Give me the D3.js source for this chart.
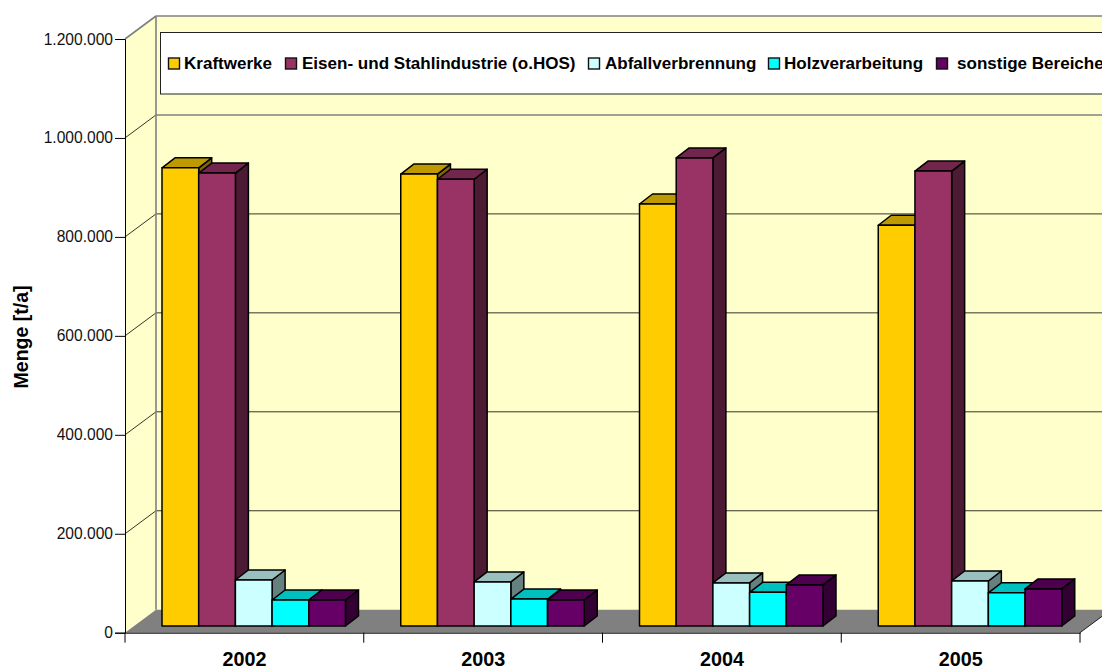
<!DOCTYPE html>
<html><head><meta charset="utf-8">
<script src="https://cdn.jsdelivr.net/npm/d3@7/dist/d3.min.js"></script>
<style>html,body{margin:0;padding:0;background:#fff;overflow:hidden}svg{display:block}text{font-family:"Liberation Sans",Arial,sans-serif;fill:#000}</style>
</head><body><svg id="c" width="1102" height="667"></svg>
<script>
const years = ["2002","2003","2004","2005"];
const seriesNames = ["Kraftwerke","Eisen- und Stahlindustrie (o.HOS)","Abfallverbrennung","Holzverarbeitung","sonstige Bereiche"];
const kraftwerke = [926000,913500,853000,810000];
const eisenStahl = [915500,903000,946000,919500];
const abfall = [93000,89000,87000,91000];
const holz = [52500,54500,68000,67000];
const sonstige = [52500,52500,83000,75000];
const allSeries = [kraftwerke,eisenStahl,abfall,holz,sonstige];
const yTicks = [0,200000,400000,600000,800000,1000000,1200000];
const colors = ["#FFCC00","#993366","#CCFFFF","#00FFFF","#660066"];
const topColors = ["#BF9900","#73264D","#99BFBF","#00BFBF","#4D004D"];
const sideColors = ["#806600","#4D1A33","#668080","#008080","#330033"];
const legendKeyX = [168,285,588,768,936];
const legendTextX = [184,302,605,784,957];

const svg = d3.select("#c");
const y = d3.scaleLinear().domain([0,1200000]).range([632.7,39]);
const x = d3.scaleBand().domain(years).range([125,1080]);
const inner = d3.scaleBand().domain(d3.range(5)).range([37,220.5]);
const fmt = d3.formatLocale({decimal:",",thousands:".",grouping:[3],currency:["",""]}).format(",d");
const depth = {dx:31,dy:-23}, barDepth = {dx:13,dy:-10}, barBase = {dx:0,dy:-6.7};
const rightEdge = 1080, pts = a => a.map(p=>p.join(",")).join(" ");

// walls
const y0=y(0), yT=y(1200000), L=125;
svg.append("polygon").attr("points",pts([[L,yT],[L+depth.dx,yT+depth.dy],[L+depth.dx,y0+depth.dy],[L,y0]])).attr("fill","#FFFFCC");
svg.append("rect").attr("x",L+depth.dx).attr("y",yT+depth.dy).attr("width",1000).attr("height",y0-yT).attr("fill","#FFFFCC");
// gridlines
yTicks.slice(1).forEach(t=>{
  const gray = t>=1000000, c = gray?"#808080":"#000", yy=y(t);
  svg.append("line").attr("x1",L+depth.dx).attr("x2",1102).attr("y1",yy+depth.dy).attr("y2",yy+depth.dy)
    .attr("stroke",c).attr("stroke-width",gray?1.6:0.8);
  svg.append("line").attr("x1",L).attr("x2",L+depth.dx).attr("y1",yy).attr("y2",yy+depth.dy)
    .attr("stroke",t===1200000?"#808080":"#000").attr("stroke-width",t===1200000?1.6:0.8);
});
svg.append("line").attr("x1",L+depth.dx).attr("x2",L+depth.dx).attr("y1",yT+depth.dy).attr("y2",y0+depth.dy).attr("stroke","#808080").attr("stroke-width",1.6);
// floor
svg.append("polygon").attr("points",pts([[L,y0],[L+depth.dx,y0+depth.dy],[rightEdge+depth.dx,y0+depth.dy],[rightEdge,y0]])).attr("fill","#808080");
// legend
svg.append("rect").attr("x",160.5).attr("y",32.5).attr("width",1000).attr("height",61.5).attr("fill","#fff").attr("stroke","#222").attr("stroke-width",1);
seriesNames.forEach((n,i)=>{
  svg.append("rect").attr("x",legendKeyX[i]+.5).attr("y",58).attr("width",11).attr("height",11).attr("fill",colors[i]).attr("stroke","#111").attr("stroke-width",1.4);
  svg.append("text").attr("x",legendTextX[i]).attr("y",69.2).attr("font-size",17.05).attr("font-weight","bold").text(n);
});
// bars
years.forEach((yr,gi)=>{
  allSeries.forEach((s,si)=>{
    const x0=x(yr)+inner(si), w=inner.bandwidth(), b=y(0)+barBase.dy, t=b-(y(0)-y(s[gi]));
    const d=barDepth, g=svg.append("g").attr("stroke","#000").attr("stroke-width",1.5).attr("stroke-linejoin","round");
    g.append("polygon").attr("fill",sideColors[si]).attr("points",pts([[x0+w,t],[x0+w+d.dx,t+d.dy],[x0+w+d.dx,b+d.dy],[x0+w,b]]));
    g.append("polygon").attr("fill",topColors[si]).attr("points",pts([[x0,t],[x0+d.dx,t+d.dy],[x0+w+d.dx,t+d.dy],[x0+w,t]]));
    g.append("rect").attr("fill",colors[si]).attr("x",x0).attr("y",t).attr("width",w).attr("height",b-t);
  });
});
// axes
const ya = svg.append("g").attr("transform","translate(125,0)").call(d3.axisLeft(y).tickValues(yTicks).tickFormat(fmt).tickSize(10).tickPadding(2));
ya.select(".domain").attr("stroke","#000");
ya.selectAll("text").attr("font-size",15.6).style("font-family",'"Liberation Sans",Arial,sans-serif').style("fill","#111");
const xa = svg.append("g").attr("transform",`translate(0,${y0})`).call(d3.axisBottom(x).tickSize(0));
xa.select(".domain").attr("stroke","#000");
xa.selectAll("text").attr("font-size",19.8).attr("font-weight","bold").attr("dy",0).style("font-family",'"Liberation Sans",Arial,sans-serif').attr("y",33);
const boundaries=[...years.map(v=>x(v)),rightEdge];
svg.selectAll(".xt").data(boundaries).join("line").attr("x1",d=>d).attr("x2",d=>d).attr("y1",y0).attr("y2",y0+10).attr("stroke","#000");
svg.append("line").attr("x1",rightEdge).attr("y1",y0).attr("x2",rightEdge+depth.dx).attr("y2",y0+depth.dy).attr("stroke","#000").attr("stroke-width",.8);
svg.append("text").attr("transform","translate(27.5,337) rotate(-90)").attr("text-anchor","middle").attr("font-size",19.5).attr("font-weight","bold").text("Menge [t/a]");
</script></body></html>
